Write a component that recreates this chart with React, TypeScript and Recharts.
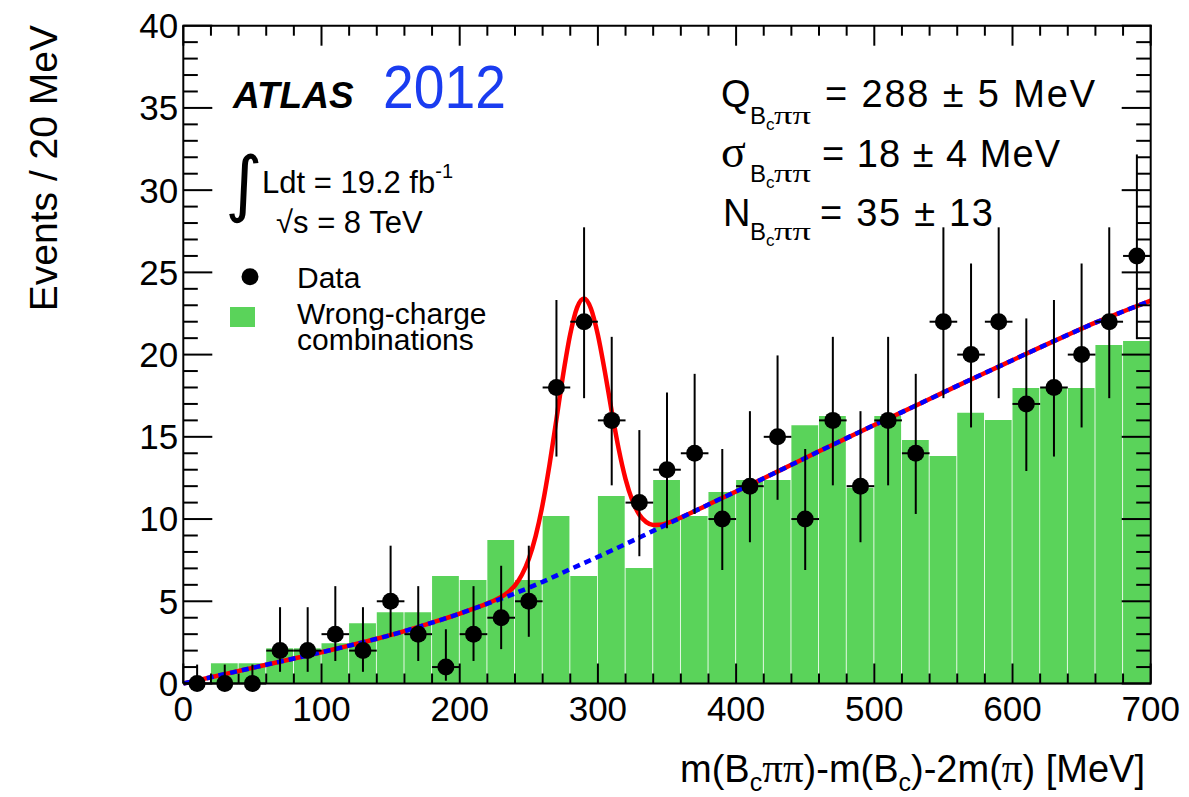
import React from 'react';
import { createPortal } from 'react-dom';
import { ComposedChart, Bar, Line, Scatter, XAxis, YAxis, ErrorBar, Legend } from 'recharts';

// ---------- data ----------
const binCenters = [10, 30, 50, 70, 90, 110, 130, 150, 170, 190, 210, 230, 250, 270, 290, 310, 330, 350, 370, 390, 410, 430, 450, 470, 490, 510, 530, 550, 570, 590, 610, 630, 650, 670, 690];
const binHalfWidth = 10;
const dataCounts = [0, 0, 0, 2, 2, 3, 2, 5, 3, 1, 3, 4, 5, 18, 22, 16, 11, 13, 14, 10, 12, 15, 10, 16, 12, 16, 14, 22, 20, 22, 17, 18, 20, 22, 26];
const errLow = [0, 0, 0, 1.29, 1.29, 1.63, 1.29, 2.16, 1.63, 0.83, 1.63, 1.91, 2.16, 4.2, 4.65, 3.95, 3.26, 3.56, 3.69, 3.1, 3.41, 3.83, 3.1, 3.95, 3.41, 3.95, 3.69, 4.65, 4.43, 4.65, 4.08, 4.2, 4.43, 4.65, 5.06];
const errHigh = [1.15, 1.15, 1.15, 2.64, 2.64, 2.92, 2.64, 3.38, 2.92, 2.3, 2.92, 3.16, 3.38, 5.32, 5.74, 5.08, 4.41, 4.69, 4.83, 4.26, 4.56, 4.95, 4.26, 5.08, 4.56, 5.08, 4.83, 5.74, 5.54, 5.74, 5.2, 5.32, 5.54, 5.74, 6.17];
const wrongCharge = [0, 1.23, 1.23, 2.14, 2.14, 2.45, 3.66, 4.33, 4.33, 6.54, 6.3, 8.73, 6.3, 10.19, 6.54, 11.4, 7.03, 12.38, 10.19, 11.65, 12.38, 12.38, 15.7, 16.27, 11.9, 16.27, 14.81, 13.84, 16.47, 16.03, 17.97, 17.97, 17.97, 20.59, 20.83];

// background-only fit (blue dotted)
const bgX = [0, 20, 40, 60, 80, 100, 120, 140, 160, 180, 200, 220, 240, 260, 280, 300, 320, 340, 360, 380, 400, 420, 440, 460, 480, 500, 520, 540, 560, 580, 600, 620, 640, 660, 680, 700];
const bgY = [0, 0.38, 0.76, 1.14, 1.52, 1.9, 2.3, 2.72, 3.18, 3.7, 4.25, 4.85, 5.48, 6.18, 6.95, 7.7, 8.48, 9.28, 10.08, 10.88, 11.68, 12.48, 13.3, 14.12, 14.92, 15.72, 16.5, 17.3, 18.1, 18.88, 19.66, 20.44, 21.2, 21.94, 22.62, 23.28];

// signal + background fit (red)
const fitX = [0, 20, 40, 60, 80, 100, 120, 140, 160, 180, 200, 205, 210, 215, 220, 225, 230, 235, 240, 245, 250, 255, 260, 265, 270, 275, 280, 285, 290, 295, 300, 305, 310, 315, 320, 325, 330, 335, 340, 345, 350, 355, 360, 380, 400, 420, 440, 460, 480, 500, 520, 540, 560, 580, 600, 620, 640, 660, 680, 700];
const fitY = [0, 0.38, 0.76, 1.14, 1.52, 1.9, 2.3, 2.72, 3.18, 3.7, 4.25, 4.4, 4.55, 4.7, 4.87, 5.05, 5.26, 5.55, 5.96, 6.61, 7.57, 8.98, 10.89, 13.31, 16.07, 18.86, 21.25, 22.87, 23.41, 22.79, 21.19, 18.98, 16.54, 14.28, 12.43, 11.11, 10.26, 9.81, 9.64, 9.65, 9.75, 9.91, 10.09, 10.88, 11.68, 12.48, 13.3, 14.12, 14.92, 15.72, 16.5, 17.3, 18.1, 18.88, 19.66, 20.44, 21.2, 21.94, 22.62, 23.28];

const xTicks = Array.from({ length: 36 }, (_, i) => i * 20); // labelled every 100
const yTicks = Array.from({ length: 41 }, (_, i) => i); // labelled every 5

// ---------- tables ----------
const bins = binCenters.map((x, i) => ({ x, wc: wrongCharge[i] }));
const points = binCenters.map((x, i) => ({ x, n: dataCounts[i], err: [errLow[i], errHigh[i]], xe: binHalfWidth }));
const bgCurve = bgX.map((x, i) => ({ x, bg: bgY[i] }));
const fitCurve = fitX.map((x, i) => ({ x, fit: fitY[i] }));

// ---------- layout & style ----------
const W = 1189;
const H = 797;
const MARGIN = { top: 25.7, right: 38.3, bottom: 53.5, left: 103.3 };
const X_AXIS_H = 60;
const Y_AXIS_W = 80;
const PLOT_LEFT = MARGIN.left + Y_AXIS_W;
const PLOT_RIGHT = W - MARGIN.right;
const PLOT_TOP = MARGIN.top;
const PLOT_BOTTOM = H - MARGIN.bottom - X_AXIS_H;

const FONT = "'Liberation Sans', Arial, Helvetica, sans-serif";
const SERIF = "'Liberation Serif', 'DejaVu Serif', serif";
const GREEN = '#5AD35A';

const renderPoint = (p: any) => <circle cx={p.cx} cy={p.cy} r={8.5} fill="#000" />;

const legendContent = () => (
  <svg width={300} height={110} style={{ overflow: 'visible' }}>
    <circle cx={30} cy={26.7} r={8.5} fill="#000" />
    <text x={77} y={38} fontSize={30} fontFamily={FONT} fill="#000">Data</text>
    <rect x={10} y={57} width={25} height={20} fill={GREEN} />
    <text x={77} y={74} fontSize={30} fontFamily={FONT} fill="#000">Wrong-charge</text>
    <text x={77} y={100} fontSize={30} fontFamily={FONT} fill="#000">combinations</text>
  </svg>
);

export default function App() {
  // the inward tick marks are sent to a layer above the plot so they sit on top of the bars (ROOT style)
  const [tickLayer, setTickLayer] = React.useState<SVGGElement | null>(null);

  const XTick = (props: any) => {
    const { x, y, payload } = props;
    const v = payload.value;
    const major = v % 100 === 0;
    const len = major ? 20 : 10;
    const marks = (
      <g>
        <line x1={x} x2={x} y1={PLOT_BOTTOM} y2={PLOT_BOTTOM - len} stroke="#000" strokeWidth={2} />
        <line x1={x} x2={x} y1={PLOT_TOP} y2={PLOT_TOP + len} stroke="#000" strokeWidth={2} />
        {v === 700 && <line x1={x} x2={x} y1={PLOT_TOP - 1} y2={PLOT_BOTTOM + 1} stroke="#000" strokeWidth={2} />}
      </g>
    );
    return (
      <g>
        {tickLayer ? createPortal(marks, tickLayer) : null}
        {major && (
          <text x={x} y={y} dy="0.71em" textAnchor="middle" fontSize={35} fontFamily={FONT} fill="#000">{v}</text>
        )}
      </g>
    );
  };

  const YTick = (props: any) => {
    const { x, y, payload } = props;
    const v = payload.value;
    const major = v % 5 === 0;
    const len = major ? 29 : 14.5;
    const marks = (
      <g>
        <line x1={PLOT_LEFT} x2={PLOT_LEFT + len} y1={y} y2={y} stroke="#000" strokeWidth={2} />
        <line x1={PLOT_RIGHT} x2={PLOT_RIGHT - len} y1={y} y2={y} stroke="#000" strokeWidth={2} />
        {v === 40 && <line x1={PLOT_LEFT - 1} x2={PLOT_RIGHT + 1} y1={y} y2={y} stroke="#000" strokeWidth={2} />}
      </g>
    );
    return (
      <g>
        {tickLayer ? createPortal(marks, tickLayer) : null}
        {major && (
          <text x={x} y={y} dy="0.355em" textAnchor="end" fontSize={35} fontFamily={FONT} fill="#000">{v}</text>
        )}
      </g>
    );
  };

  return (
    <div style={{ position: 'absolute', left: 0, top: 0, width: W, height: H, background: '#fff' }}>
      <ComposedChart width={W} height={H} data={bins} margin={MARGIN}>
        <XAxis dataKey="x" type="number" domain={[0, 700]} ticks={xTicks} interval={0} height={X_AXIS_H}
          tickLine={false} tickSize={0} tickMargin={13} axisLine={{ stroke: '#000', strokeWidth: 2 }}
          tick={XTick} />
        <XAxis xAxisId="curve" dataKey="x" type="number" domain={[0, 700]} allowDataOverflow hide />
        <YAxis type="number" domain={[0, 40]} ticks={yTicks} interval={0} width={Y_AXIS_W}
          tickLine={false} tickSize={0} tickMargin={5} axisLine={{ stroke: '#000', strokeWidth: 2 }}
          tick={YTick} />

        <Bar dataKey="wc" fill={GREEN} barSize={26.8} isAnimationActive={false} legendType="none" />
        <Line xAxisId="curve" data={fitCurve} dataKey="fit" type="monotone" stroke="#ff0000" strokeWidth={4.5} dot={false} activeDot={false} isAnimationActive={false} legendType="none" />
        <Line xAxisId="curve" data={bgCurve} dataKey="bg" type="monotone" stroke="#0000ff" strokeWidth={4.5} strokeDasharray="7 5" dot={false} activeDot={false} isAnimationActive={false} legendType="none" />
        <Scatter data={points} dataKey="n" shape={renderPoint} isAnimationActive={false} legendType="none">
          <ErrorBar dataKey="err" direction="y" width={0} stroke="#000" strokeWidth={2} />
          <ErrorBar dataKey="xe" direction="x" width={0} stroke="#000" strokeWidth={2} />
        </Scatter>

        <Legend layout="vertical" align="center" verticalAlign="middle" content={legendContent}
          wrapperStyle={{ left: 220, top: 250, width: 300, height: 110 }} />
      </ComposedChart>

      <svg width={W} height={H} style={{ position: 'absolute', left: 0, top: 0, pointerEvents: 'none' }}>
        <g ref={setTickLayer} />

        {/* axis titles */}
        <text transform="translate(57,25) rotate(-90)" textAnchor="end" fontSize={39} fontFamily={FONT} fill="#000">Events / 20 MeV</text>
        <text x={1145} y={782} textAnchor="end" fontSize={38} fontFamily={FONT} fill="#000">
          <tspan>m(B</tspan>
          <tspan fontSize={25} dy={9}>c</tspan>
          <tspan dy={-9} fontFamily={SERIF} fontSize={41}>ππ</tspan>
          <tspan>)-m(B</tspan>
          <tspan fontSize={25} dy={9}>c</tspan>
          <tspan dy={-9}>)-2m(</tspan>
          <tspan fontFamily={SERIF} fontSize={41}>π</tspan>
          <tspan>) [MeV]</tspan>
        </text>

        {/* ATLAS label */}
        <text x={233} y={108} fontSize={37} fontWeight="bold" fontStyle="italic" fontFamily={FONT} fill="#000">ATLAS</text>
        <text x={383} y={108} fontSize={62} fontFamily={FONT} fill="#1a3cf0" textLength={123} lengthAdjust="spacingAndGlyphs">2012</text>

        {/* luminosity */}
        <text x={225} y={208} fontSize={72} fontFamily="'DejaVu Sans', sans-serif" fill="#000">∫</text>
        <text x={262} y={193} fontSize={31} fontFamily={FONT} fill="#000">Ldt = 19.2 fb<tspan fontSize={20} dy={-15}>-1</tspan></text>
        <text x={276} y={233} fontSize={31} fontFamily={FONT} fill="#000">√s = 8 TeV</text>

        {/* fit results */}
        <text x={721} y={107} fontSize={38} fontFamily={FONT} fill="#000">Q</text>
        <text x={750} y={124} fontSize={24} fontFamily={FONT} fill="#000">B</text>
        <text x={766} y={130} fontSize={17} fontFamily={FONT} fill="#000">c</text>
        <text x={774} y={124} fontSize={26} fontFamily={SERIF} fill="#000" textLength={37} lengthAdjust="spacingAndGlyphs">ππ</text>
        <text x={825} y={107} fontSize={38} fontFamily={FONT} fill="#000" textLength={270} lengthAdjust="spacing">= 288 ± 5 MeV</text>

        <text x={721} y={167} fontSize={46} fontFamily={SERIF} fill="#000">σ</text>
        <text x={750} y={182} fontSize={24} fontFamily={FONT} fill="#000">B</text>
        <text x={766} y={188} fontSize={17} fontFamily={FONT} fill="#000">c</text>
        <text x={774} y={182} fontSize={26} fontFamily={SERIF} fill="#000" textLength={37} lengthAdjust="spacingAndGlyphs">ππ</text>
        <text x={822} y={167} fontSize={38} fontFamily={FONT} fill="#000" textLength={238} lengthAdjust="spacing">= 18 ± 4 MeV</text>

        <text x={723} y={226} fontSize={38} fontFamily={FONT} fill="#000">N</text>
        <text x={750} y={240} fontSize={24} fontFamily={FONT} fill="#000">B</text>
        <text x={766} y={246} fontSize={17} fontFamily={FONT} fill="#000">c</text>
        <text x={774} y={240} fontSize={26} fontFamily={SERIF} fill="#000" textLength={37} lengthAdjust="spacingAndGlyphs">ππ</text>
        <text x={820} y={226} fontSize={38} fontFamily={FONT} fill="#000" textLength={173} lengthAdjust="spacing">= 35 ± 13</text>
      </svg>
    </div>
  );
}
